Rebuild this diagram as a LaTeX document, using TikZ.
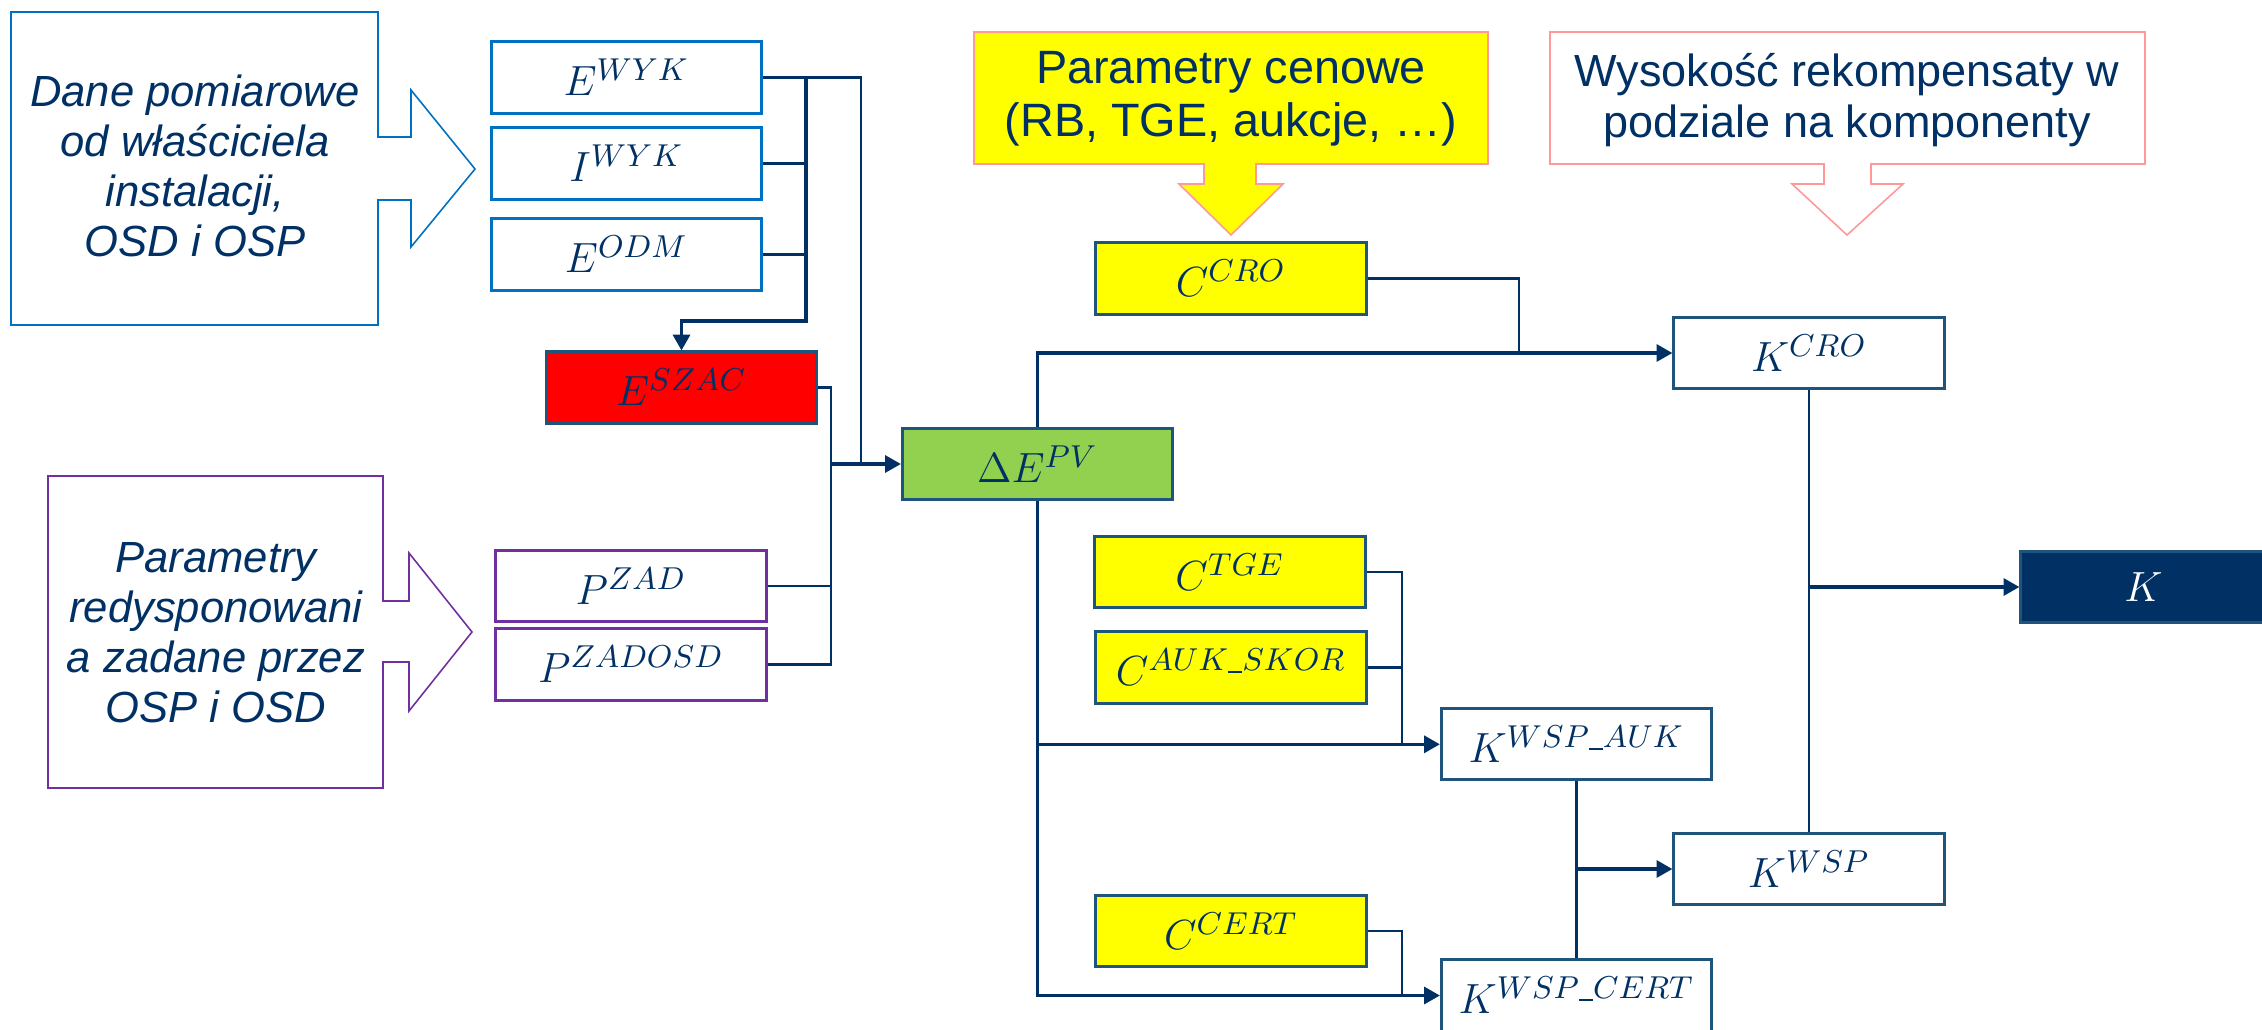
\documentclass[tikz,border=0pt]{standalone}
\usepackage[no-math]{fontspec}
\newfontfamily\arialfont{Liberation Sans}
\usetikzlibrary{arrows.meta}

\definecolor{pvnavy}{RGB}{0,48,100}
\definecolor{pvedge}{RGB}{31,85,125}
\definecolor{pvblue}{RGB}{0,112,192}
\definecolor{pvpurple}{RGB}{112,48,160}
\definecolor{pvpink}{RGB}{255,153,153}
\definecolor{pvgreen}{RGB}{146,208,80}
\definecolor{pvyellow}{RGB}{255,255,0}

% short underscore inside superscripts
\newcommand{\usc}{\rule[-0.6pt]{4pt}{0.45pt}}

\begin{document}
\begin{tikzpicture}[x=0.01cm, y=-0.01cm,
    box/.style={draw=pvedge, line width=0.85pt, minimum width=2.7cm, minimum height=0.71cm,
        inner sep=0pt, text=pvnavy, font=\fontsize{12.8}{15}\selectfont},
    calltext/.style={align=center, text=pvnavy, font=\arialfont\itshape\fontsize{12.4}{14.2}\selectfont},
    toptext/.style={align=center, text=pvnavy, font=\arialfont\fontsize{12.8}{14.7}\selectfont},
    wire/.style={pvnavy, line width=0.75pt},
    feed/.style={pvnavy, line width=1pt, -{Triangle[length=4.5pt,width=4.8pt]}}]
    \useasboundingbox (0,0) rectangle (2262,1030);

    % callouts on the left
    \draw[pvblue, line width=0.45pt] (11,12) -- (378,12) -- (378,137) -- (411,137) -- (411,90) -- (475,169)
        -- (411,247) -- (411,200) -- (378,200) -- (378,325) -- (11,325) -- cycle;
    \node[calltext] (dane) at (195,166) {Dane pomiarowe\\od właściciela\\instalacji,\\OSD i OSP};

    \draw[pvpurple, line width=0.45pt] (48,476) -- (383,476) -- (383,601) -- (409,601) -- (409,553) -- (472,632)
        -- (409,711) -- (409,662) -- (383,662) -- (383,788) -- (48,788) -- cycle;
    \node[calltext] (redysp) at (216,633) {Parametry\\redysponowani\\a zadane przez\\OSP i OSD};

    % callouts on top
    \filldraw[fill=pvyellow, draw=pvpink, line width=0.45pt] (974,32) -- (1488,32) -- (1488,164) -- (1256,164) -- (1256,184)
        -- (1283,184) -- (1231,235) -- (1179,184) -- (1204,184) -- (1204,164) -- (974,164) -- cycle;
    \node[toptext, font=\arialfont\fontsize{13.3}{15.2}\selectfont] (ceny) at (1231,99) {Parametry cenowe\\(RB, TGE, aukcje, …)};

    \draw[pvpink, line width=0.45pt] (1550,32) -- (2145,32) -- (2145,164) -- (1871,164) -- (1871,184)
        -- (1903,184) -- (1847,235) -- (1792,184) -- (1824,184) -- (1824,164) -- (1550,164) -- cycle;
    \node[toptext] (wysok) at (1847,100) {Wysokość rekompensaty w\\podziale na komponenty};

    % input boxes
    \node[box, draw=pvblue] (ewyk) at (626.5,77.5) {$E^{WYK}$};
    \node[box, draw=pvblue] (iwyk) at (626.5,163.5) {$I^{WYK}$};
    \node[box, draw=pvblue] (eodm) at (626.5,254.5) {$E^{ODM}$};
    \node[box, fill=red] (eszac) at (681.5,387.5) {$E^{SZAC}$};
    \node[box, draw=pvpurple] (pzad) at (631,586) {$P^{ZAD}$};
    \node[box, draw=pvpurple] (pzadosd) at (631,664.5) {$P^{ZADOSD}$};

    \node[box, fill=pvgreen] (dEpv) at (1037.5,464) {$\Delta E^{PV}$};

    \node[box, fill=pvyellow] (ccro) at (1231,278.5) {$C^{CRO}$};
    \node[box, fill=pvyellow] (ctge) at (1230,572) {$C^{TGE}$};
    \node[box, fill=pvyellow] (cauk) at (1231,667.5) {$C^{AUK\usc SKOR}$};
    \node[box, fill=pvyellow] (ccert) at (1231,931) {$C^{CERT}$};

    \node[box] (kcro) at (1809,353) {$K^{CRO}$};
    \node[box] (kwspauk) at (1576.5,744.3) {$K^{WSP\usc AUK}$};
    \node[box] (kwsp) at (1809,869) {$K^{WSP}$};
    \node[box] (kwspcert) at (1576.5,995.5) {$K^{WSP\usc CERT}$};
    \node[box, fill=pvnavy, text=white, minimum width=2.45cm] (k) at (2143.5,587) {$K$\hspace{0.25cm}};

    % measurements into E^SZAC and Delta E^PV
    \coordinate (busa) at (806,321);
    \coordinate (busb) at (831,464);
    \draw[wire] (ewyk.east) -| (861,464);
    \draw[feed] (806,77.5) -- (busa) -| (eszac.north);
    \draw[wire] (iwyk.east) -- (iwyk.east -| busa);
    \draw[wire] (eodm.east) -- (eodm.east -| busa);
    \draw[wire] (eszac.east) -| (pzadosd.east -| busb) -- (pzadosd.east);
    \draw[wire] (pzad.east) -- (pzad.east -| busb);
    \draw[feed] (busb) -- (dEpv.west);

    % components
    \draw[feed] (dEpv.north) |- (kcro.west);
    \draw[feed] (dEpv.south) |- (kwspauk.west);
    \draw[feed] (dEpv.south) |- (kwspcert.west);
    \draw[wire] (ccro.east) -| (1519,353);
    \coordinate (busd) at (1402,744.3);
    \draw[wire] (ctge.east) -| (busd);
    \draw[wire] (cauk.east) -- (cauk.east -| busd);
    \draw[wire] (ccert.east) -| (1402,995.5);

    \draw[wire] (kwspauk.south) -- (kwspcert.north);
    \draw[feed] (kwspauk.south |- kwsp.west) -- (kwsp.west);
    \draw[wire] (kcro.south) -- (kwsp.north);
    \draw[feed] (kcro.south |- k.west) -- (k.west);
\end{tikzpicture}
\end{document}
